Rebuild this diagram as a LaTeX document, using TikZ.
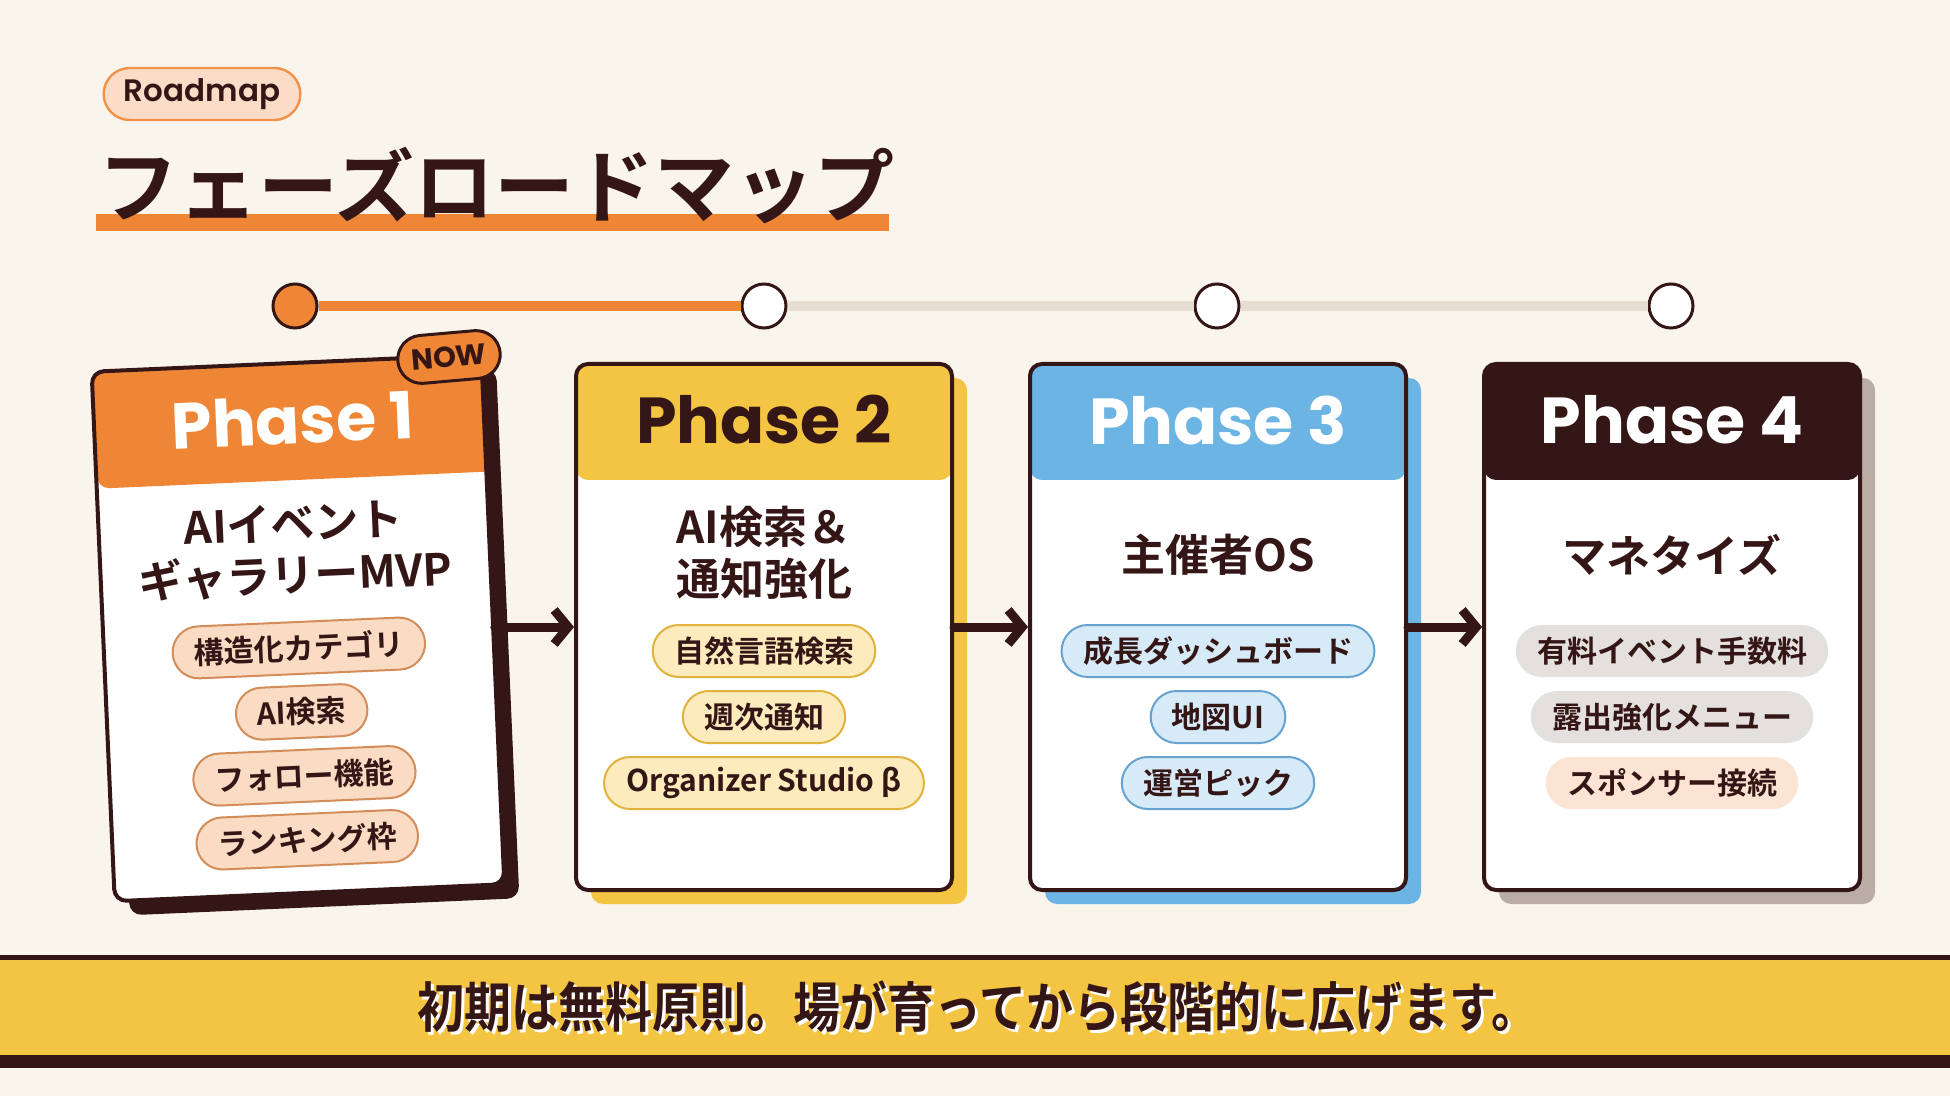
\documentclass[tikz,border=0pt]{standalone}
\usepackage{fontspec}
\newfontfamily\jpfont{Noto Sans CJK JP}[BoldFont={Noto Sans CJK JP Bold}]
\newfontfamily\popfont{Poppins}[BoldFont={Poppins Bold}]
\newfontfamily\popsemi{Poppins SemiBold}
\usetikzlibrary{positioning, arrows.meta, shapes.misc, shadows}

\definecolor{bg}{HTML}{FAF5EC}
\definecolor{ink}{HTML}{351616}
\definecolor{orng}{HTML}{EF8636}
\definecolor{yel}{HTML}{F4C542}
\definecolor{sky}{HTML}{6CB4E4}
\definecolor{railgrey}{HTML}{E8DDD1}
\definecolor{taupe}{HTML}{B9ADA5}

\begin{document}
\begin{tikzpicture}[x=0.5pt, y=-0.5pt,
    every node/.style={align=center, text=ink},
    card/.style={draw=ink, line width=2pt, rounded corners=6pt, fill=white,
        minimum width=188pt, minimum height=263pt, inner sep=0pt,
        path picture={\fill[#1] (path picture bounding box.north west)
            rectangle ([yshift=-58pt]path picture bounding box.north east);}},
    lift/.style={drop shadow={shadow xshift=7.5pt, shadow yshift=-7pt, fill=#1, opacity=1}},
    hdr/.style={font=\popfont\bfseries\fontsize{32.5}{38}\selectfont},
    ttl/.style={font=\jpfont\bfseries\fontsize{22}{26}\selectfont},
    tag/.style={rounded rectangle, minimum height=26pt, inner xsep=8.5pt, inner ysep=0pt,
        line width=1pt, font=\jpfont\bfseries\fontsize{15}{18}\selectfont},
    tagorange/.style={tag, fill=orng!30, draw=orng!80!ink!80},
    tagyellow/.style={tag, fill=yel!35, draw=yel!90!ink},
    tagblue/.style={tag, fill=sky!28, draw=sky!90!ink},
    tagbrown/.style={tag, fill=taupe!38},
    tagpeach/.style={tag, fill=orng!22},
    dot/.style={circle, draw=ink, line width=1.5pt, minimum size=22pt, inner sep=0pt},
    rail/.style={line width=5pt},
    flow/.style={-{Straight Barb[length=7pt, width=17pt]}, line width=4.5pt, ink,
        line cap=round, line join=round}
  ]
  \useasboundingbox (0,0) rectangle (1950,1096);
  \fill[bg] (0,0) rectangle (1950,1096);

  % heading
  \node[rounded rectangle, fill=orng!28, draw=orng!90, line width=1.2pt,
    minimum width=105pt, minimum height=26pt, font=\popsemi\fontsize{15.5}{18}\selectfont]
    (label) at (202,94) {Roadmap};
  \fill[orng] (96,214) rectangle (889,231);
  \node[anchor=west, inner sep=0pt, font=\jpfont\bfseries\fontsize{40}{44}\selectfont]
    (title) at (98,186) {フェーズロードマップ};

  % timeline
  \node[dot, fill=orng] (t1) at (295,306) {};
  \node[dot, fill=white] (t2) at (764,306) {};
  \node[dot, fill=white] (t3) at (1217,306) {};
  \node[dot, fill=white] (t4) at (1671,306) {};
  \draw[rail, orng] (t1) -- (t2);
  \draw[rail, railgrey] (t2) -- (t3) (t3) -- (t4);

  % phase 1 (tilted)
  \begin{scope}[shift={(298,628)}, rotate=2.5, transform shape]
    \node[card=orng, lift=ink, minimum width=195pt, minimum height=265pt] (c1) at (0,0) {};
    \node[hdr, text=white] (n1) at (4,-208) {Phase 1};
    \node[ttl] (h1) at (0,-78) {AIイベント\\ギャラリーMVP};
    \node[tagorange] (p1a) at (0,20) {構造化カテゴリ};
    \node[tagorange, below=5pt of p1a] (p1b) {AI検索};
    \node[tagorange, below=5pt of p1b] (p1c) {フォロー機能};
    \node[tagorange, below=5pt of p1c] (p1d) {ランキング枠};
  \end{scope}
  \node[rounded rectangle, fill=orng, draw=ink, line width=1.5pt, rotate=5,
    minimum width=58pt, minimum height=24pt, font=\popfont\bfseries\fontsize{14.5}{16}\selectfont]
    (now) at (449,357) {NOW};

  % phase 2
  \node[card=yel, lift=yel] (c2) at (764,627) {};
  \node[hdr] (n2) at ([yshift=-29pt]c2.north) {Phase 2};
  \node[ttl] (h2) at ([yshift=37pt]c2.center) {AI検索＆\\通知強化};
  \node[tagyellow] (p2a) at ([yshift=-12pt]c2.center) {自然言語検索};
  \node[tagyellow, below=6pt of p2a] (p2b) {週次通知};
  \node[tagyellow, below=6pt of p2b] (p2c) {Organizer Studio β};

  % phase 3
  \node[card=sky, lift=sky] (c3) at (1218,627) {};
  \node[hdr, text=white] (n3) at ([yshift=-29pt]c3.north) {Phase 3};
  \node[ttl] (h3) at ([yshift=36pt]c3.center) {主催者OS};
  \node[tagblue] (p3a) at ([yshift=-12pt]c3.center) {成長ダッシュボード};
  \node[tagblue, below=6pt of p3a] (p3b) {地図UI};
  \node[tagblue, below=6pt of p3b] (p3c) {運営ピック};

  % phase 4
  \node[card=ink, lift=taupe] (c4) at (1672,627) {};
  \node[hdr, text=white] (n4) at ([yshift=-29pt]c4.north) {Phase 4};
  \node[ttl] (h4) at ([yshift=36pt]c4.center) {マネタイズ};
  \node[tagbrown] (p4a) at ([yshift=-12pt]c4.center) {有料イベント手数料};
  \node[tagbrown, below=6pt of p4a] (p4b) {露出強化メニュー};
  \node[tagpeach, below=6pt of p4b] (p4c) {スポンサー接続};

  % arrows
  \draw[flow] (c1.east |- c2.west) -- (c2.west);
  \draw[flow] (c2.east) -- (c3.west);
  \draw[flow] (c3.east) -- (c4.west);

  % footer
  \fill[ink] (0,955) rectangle (1950,1068);
  \fill[yel] (0,960) rectangle (1950,1055);
  \node[text=white, font=\jpfont\bfseries\fontsize{23.5}{26}\selectfont] (msgshade) at (981,1010)
    {\scalebox{1}[1.15]{初期は無料原則。場が育ってから段階的に広げます。}};
  \node[font=\jpfont\bfseries\fontsize{23.5}{26}\selectfont] (msg) at (978,1007)
    {\scalebox{1}[1.15]{初期は無料原則。場が育ってから段階的に広げます。}};
\end{tikzpicture}
\end{document}
